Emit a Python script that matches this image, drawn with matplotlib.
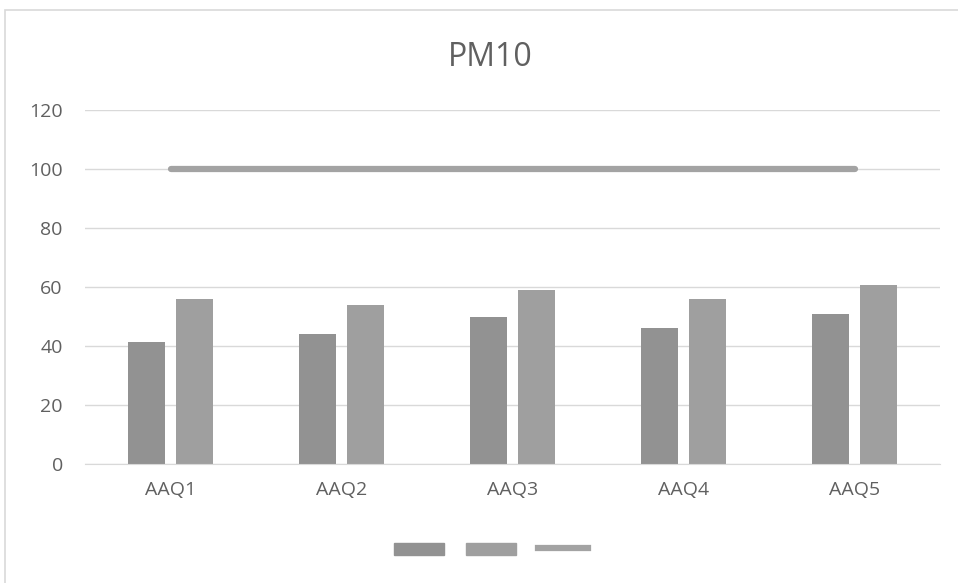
import matplotlib.pyplot as plt
import numpy as np
from matplotlib.patches import Rectangle, Patch
from matplotlib.lines import Line2D

categories = ["AAQ1", "AAQ2", "AAQ3", "AAQ4", "AAQ5"]
series_a = [41.5, 44, 50, 46, 50.7]
series_b = [56, 54, 59, 56, 60.7]
limit = [100, 100, 100, 100, 100]
yticks = [0, 20, 40, 60, 80, 100, 120]

c_a = "#929292"
c_b = "#9f9f9f"
c_line = "#a3a3a3"
txt = "#606060"

plt.rcParams['font.family'] = ['Open Sans', 'DejaVu Sans']

fig = plt.figure(figsize=(9.58, 5.83), dpi=100)
ax = fig.add_axes([85/958, 1-464/583, 855/958, 354/583])

x = np.arange(len(categories))
w = 0.216
ax.bar(x - 0.143, series_a, width=w, color=c_a, zorder=2)
ax.bar(x + 0.143, series_b, width=w, color=c_b, zorder=2)
ax.plot(x, limit, color=c_line, linewidth=4.5, solid_capstyle='round', zorder=3)

ax.set_xlim(-0.5, 4.5)
ax.set_ylim(0, 120)
ax.set_yticks(yticks)
ax.set_xticks(x)
ax.set_xticklabels(categories)
ax.yaxis.grid(True, color="#d9d9d9", linewidth=1)
ax.set_axisbelow(True)
for s in ["top", "right", "left"]:
    ax.spines[s].set_visible(False)
ax.spines["bottom"].set_color("#d9d9d9")
ax.tick_params(length=0, labelsize=14, labelcolor=txt)
ax.tick_params(axis='x', pad=12)
ax.tick_params(axis='y', pad=16)

fig.text(490/958, 1-58/583, "PM10", ha='center', va='center', fontsize=23, color=txt)

handles = [Patch(color=c_a), Patch(color=c_b), Line2D([], [], color=c_line, linewidth=4.5)]
fig.legend(handles, ["", "", ""], ncol=3, frameon=False, loc='center',
           bbox_to_anchor=(491/958, 1-550/583), handlelength=3.6, handleheight=1.0,
           columnspacing=1.6, handletextpad=0.0)

fig.patches.append(Rectangle((5/958, -0.1), 1.2, 1 - 10/583 + 0.1, transform=fig.transFigure,
                             fill=False, edgecolor="#d9d9d9", linewidth=1.2))

fig.savefig("out.png", dpi=100)
